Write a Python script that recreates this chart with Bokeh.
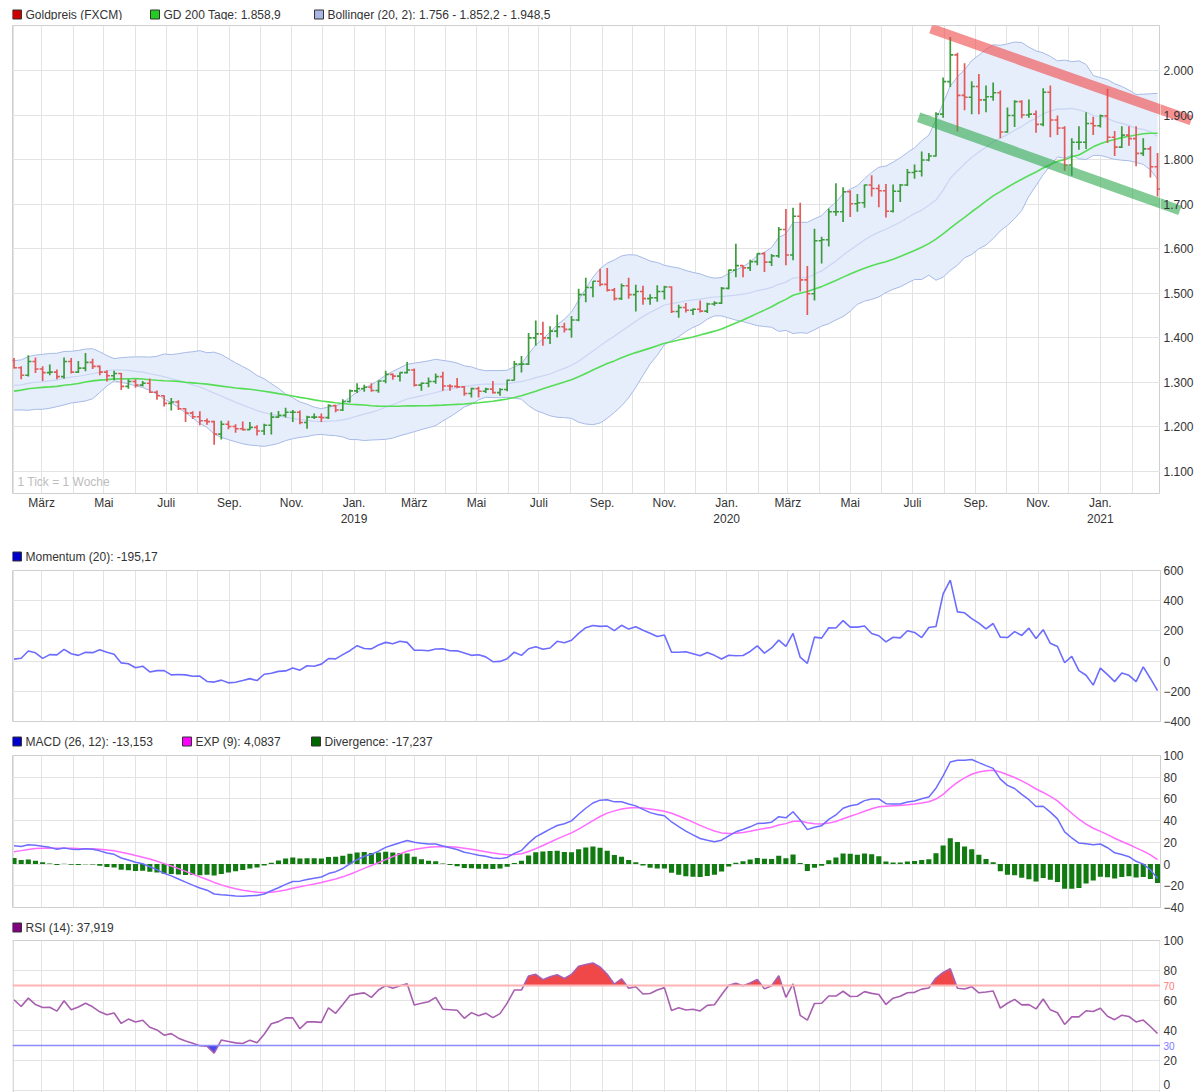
import numpy as np
import pandas as pd
from bokeh.plotting import figure
from bokeh.layouts import column, row
from bokeh.models import (FixedTicker, Label, Range1d, Span)
from bokeh.core.properties import value
from bokeh.embed import file_html
from bokeh.resources import INLINE

FONT = "Liberation Sans"

# ---------------- data ----------------
first_week = "2018-02-02"  # Friday of first weekly bar (1 Tick = 1 Woche)

bar_open = [1349, 1333, 1316, 1347, 1330, 1322, 1323, 1313, 1347, 1323, 1332, 1345, 1336, 1323, 1315, 1320,
            1291, 1302, 1294, 1298, 1278, 1270, 1253, 1256, 1241, 1231, 1223, 1214, 1212, 1184, 1206, 1201,
            1196, 1194, 1199, 1191, 1204, 1222, 1226, 1233, 1233, 1210, 1222, 1222, 1221, 1248, 1238, 1257,
            1281, 1286, 1289, 1282, 1303, 1318, 1314, 1322, 1328, 1294, 1298, 1302, 1313, 1292, 1291, 1290,
            1275, 1286, 1280, 1285, 1277, 1284, 1305, 1341, 1341, 1400, 1409, 1400, 1415, 1425, 1419, 1440,
            1497, 1513, 1527, 1520, 1507, 1488, 1517, 1497, 1504, 1488, 1490, 1504, 1514, 1459, 1468, 1462,
            1464, 1460, 1476, 1478, 1511, 1552, 1562, 1557, 1571, 1589, 1570, 1584, 1643, 1586, 1673, 1530,
            1499, 1618, 1620, 1683, 1683, 1728, 1701, 1703, 1743, 1735, 1730, 1684, 1729, 1743, 1771, 1774,
            1799, 1808, 1902, 1975, 2035, 1944, 1940, 1964, 1934, 1941, 1950, 1862, 1899, 1930, 1900, 1902,
            1879, 1951, 1889, 1871, 1788, 1839, 1839, 1881, 1876, 1898, 1850, 1828, 1855, 1847, 1814, 1824,
            1784]
bar_high = [1355, 1336, 1361, 1356, 1336, 1340, 1329, 1356, 1355, 1348, 1366, 1353, 1338, 1327, 1326, 1321,
            1307, 1307, 1303, 1309, 1282, 1271, 1265, 1260, 1242, 1235, 1235, 1219, 1214, 1214, 1214, 1206,
            1212, 1211, 1204, 1207, 1233, 1236, 1243, 1238, 1237, 1225, 1230, 1230, 1251, 1250, 1262, 1284,
            1298, 1295, 1298, 1304, 1326, 1320, 1323, 1346, 1331, 1300, 1311, 1320, 1324, 1296, 1310, 1292,
            1288, 1290, 1288, 1303, 1287, 1306, 1348, 1359, 1411, 1439, 1436, 1426, 1452, 1434, 1449, 1510,
            1535, 1527, 1555, 1557, 1512, 1522, 1535, 1519, 1517, 1498, 1518, 1517, 1515, 1474, 1478, 1466,
            1484, 1479, 1482, 1514, 1553, 1611, 1563, 1575, 1590, 1592, 1588, 1649, 1689, 1692, 1703, 1561,
            1645, 1627, 1690, 1747, 1738, 1731, 1723, 1744, 1765, 1744, 1745, 1744, 1745, 1779, 1789, 1818,
            1815, 1906, 1984, 2075, 2040, 2016, 1976, 1992, 1966, 1973, 1955, 1917, 1933, 1933, 1935, 1910,
            1960, 1966, 1899, 1875, 1848, 1875, 1906, 1896, 1901, 1959, 1864, 1875, 1875, 1875, 1848, 1830,
            1815]
bar_low = [1331, 1307, 1313, 1321, 1303, 1316, 1307, 1308, 1320, 1321, 1325, 1330, 1316, 1302, 1305, 1283,
           1286, 1288, 1291, 1276, 1261, 1246, 1237, 1238, 1211, 1218, 1204, 1205, 1160, 1172, 1195, 1187,
           1192, 1193, 1181, 1182, 1183, 1220, 1221, 1211, 1206, 1196, 1218, 1211, 1218, 1233, 1236, 1255,
           1276, 1279, 1279, 1277, 1298, 1306, 1302, 1320, 1291, 1281, 1289, 1297, 1281, 1281, 1287, 1270,
           1266, 1266, 1276, 1275, 1270, 1280, 1304, 1322, 1339, 1382, 1382, 1386, 1401, 1412, 1400, 1437,
           1480, 1491, 1516, 1504, 1484, 1485, 1488, 1459, 1474, 1474, 1481, 1486, 1456, 1445, 1457, 1451,
           1457, 1456, 1472, 1476, 1509, 1536, 1536, 1550, 1563, 1548, 1561, 1580, 1563, 1574, 1504, 1451,
           1484, 1567, 1605, 1674, 1660, 1671, 1683, 1692, 1717, 1693, 1670, 1681, 1705, 1741, 1757, 1762,
           1796, 1807, 1894, 1963, 1863, 1911, 1902, 1902, 1906, 1932, 1848, 1860, 1873, 1893, 1894, 1860,
           1875, 1850, 1855, 1775, 1764, 1822, 1824, 1855, 1872, 1837, 1808, 1826, 1831, 1785, 1808, 1760,
           1717]
bar_close = [1333, 1316, 1347, 1330, 1322, 1323, 1313, 1347, 1323, 1332, 1345, 1336, 1323, 1315, 1320, 1291,
             1302, 1294, 1298, 1278, 1270, 1253, 1256, 1241, 1231, 1223, 1214, 1212, 1184, 1206, 1201, 1196,
             1194, 1199, 1191, 1204, 1222, 1226, 1233, 1233, 1210, 1222, 1222, 1221, 1248, 1238, 1257, 1281,
             1286, 1289, 1282, 1303, 1318, 1314, 1322, 1328, 1294, 1298, 1302, 1313, 1292, 1291, 1290, 1275,
             1286, 1280, 1285, 1277, 1284, 1305, 1341, 1341, 1400, 1409, 1400, 1415, 1425, 1419, 1440, 1497,
             1513, 1527, 1520, 1507, 1488, 1517, 1497, 1504, 1488, 1490, 1504, 1514, 1459, 1468, 1462, 1464,
             1460, 1476, 1478, 1511, 1552, 1562, 1557, 1571, 1589, 1570, 1584, 1643, 1586, 1673, 1530, 1499,
             1618, 1620, 1683, 1683, 1728, 1701, 1703, 1743, 1735, 1730, 1684, 1729, 1743, 1771, 1774, 1799,
             1808, 1902, 1975, 2035, 1944, 1940, 1964, 1934, 1941, 1950, 1862, 1899, 1930, 1900, 1902, 1879,
             1951, 1889, 1871, 1788, 1839, 1839, 1881, 1876, 1898, 1850, 1828, 1855, 1847, 1814, 1824, 1784,
             1734]
# weekly closes before the visible window (2017-01-06 .. 2018-01-26), used only for indicator warm-up
closes_before = [1173, 1196, 1210, 1191, 1220, 1234, 1239, 1257, 1226, 1201, 1229, 1244, 1249, 1254, 1285,
                 1284, 1268, 1227, 1228, 1254, 1267, 1280, 1266, 1254, 1256, 1242, 1212, 1228, 1254, 1269,
                 1258, 1289, 1285, 1291, 1325, 1346, 1320, 1297, 1280, 1275, 1304, 1280, 1272, 1269, 1274,
                 1294, 1287, 1280, 1248, 1256, 1275, 1303, 1320, 1338, 1332, 1350]

month_label_dates = ["2018-03-01", "2018-05-01", "2018-07-01", "2018-09-01", "2018-11-01", "2019-01-01",
                     "2019-03-01", "2019-05-01", "2019-07-01", "2019-09-01", "2019-11-01", "2020-01-01",
                     "2020-03-01", "2020-05-01", "2020-07-01", "2020-09-01", "2020-11-01", "2021-01-01"]
month_labels = ["März", "Mai", "Juli", "Sep.", "Nov.", "Jan.\n2019",
                "März", "Mai", "Juli", "Sep.", "Nov.", "Jan.\n2020",
                "März", "Mai", "Juli", "Sep.", "Nov.", "Jan.\n2021"]
month_grid_dates = ["2018-02-01", "2018-04-01", "2018-06-01", "2018-08-01", "2018-10-01", "2018-12-01",
                    "2019-02-01", "2019-04-01", "2019-06-01", "2019-08-01", "2019-10-01", "2019-12-01",
                    "2020-02-01", "2020-04-01", "2020-06-01", "2020-08-01", "2020-10-01", "2020-12-01",
                    "2021-02-01"]

price_ticks = [1100, 1200, 1300, 1400, 1500, 1600, 1700, 1800, 1900, 2000]
price_tick_labels = ["1.100", "1.200", "1.300", "1.400", "1.500", "1.600", "1.700", "1.800", "1.900", "2.000"]
mom_ticks = [-400, -200, 0, 200, 400, 600]
macd_ticks = [-40, -20, 0, 20, 40, 60, 80, 100]
rsi_ticks = [0, 20, 40, 60, 80, 100]
rsi_upper_level = 70
rsi_lower_level = 30

trend_upper_dates = ["2020-07-19", "2021-03-31"]
trend_upper_values = [2094, 1888]
trend_lower_dates = ["2020-07-07", "2021-03-20"]
trend_lower_values = [1895, 1686]

legend_price_colors = ["#cc0000", "#22cc22", "#a9b6e4"]
legend_price_texts = ["Goldpreis (FXCM)", "GD 200 Tage: 1.858,9", "Bollinger (20, 2): 1.756 - 1.852,2 - 1.948,5"]
legend_mom_colors = ["#0000cc"]
legend_mom_texts = ["Momentum (20): -195,17"]
legend_macd_colors = ["#0000cc", "#ff00ff", "#006600"]
legend_macd_texts = ["MACD (26, 12): -13,153", "EXP (9): 4,0837", "Divergence: -17,237"]
legend_rsi_colors = ["#800080"]
legend_rsi_texts = ["RSI (14): 37,919"]

# ---------------- derived ----------------
ORIGIN = pd.Timestamp("2018-03-01")


def dnum(d):
    return float((pd.Timestamp(d) - ORIGIN).days)


dates = pd.date_range(first_week, periods=len(bar_close), freq="7D")
x = np.array([(d - ORIGIN).days for d in dates], dtype=float)

o = np.array(bar_open, float)
h = np.array(bar_high, float)
l = np.array(bar_low, float)
c = np.array(bar_close, float)

allc = pd.Series(closes_before + bar_close, dtype=float)
n0 = len(closes_before)
bb_mid = allc.rolling(20).mean()
bb_sd = allc.rolling(20).std(ddof=0)
bb_up = (bb_mid + 2 * bb_sd).values[n0:]
bb_lo = (bb_mid - 2 * bb_sd).values[n0:]
bb_mid = bb_mid.values[n0:]
gd200 = allc.rolling(40).mean().values[n0:]
mom = (allc - allc.shift(20)).values[n0:]
ema12 = allc.ewm(span=12, adjust=False).mean()
ema26 = allc.ewm(span=26, adjust=False).mean()
macd_s = ema12 - ema26
sig_s = macd_s.ewm(span=9, adjust=False).mean()
macd = macd_s.values[n0:]
sig = sig_s.values[n0:]
div = (macd_s - sig_s).values[n0:]
delta = allc.diff()
gain = delta.clip(lower=0)
loss = -delta.clip(upper=0)
ag = gain.ewm(alpha=1 / 14, adjust=False).mean()
al = loss.ewm(alpha=1 / 14, adjust=False).mean()
rsi = (100 - 100 / (1 + ag / al)).values[n0:]

x_major = [dnum(d) for d in month_label_dates]
x_minor = [dnum(d) for d in month_grid_dates]

FRAME_W = 1148
SIDE_W = 36
LEFT_B = 12
X0, X1 = -28.5, 1095.9
xr = Range1d(X0, X1)
ppd = FRAME_W / (X1 - X0)  # pixels per day

GRID = "#e3e3e3"
OUTLINE = "#cfcfcf"
LBL = "#333333"


def style_axis(ax):
    ax.axis_line_color = None
    ax.major_tick_line_color = None
    ax.minor_tick_line_color = None
    ax.major_tick_out = 0
    ax.major_tick_in = 0
    ax.minor_tick_out = 0
    ax.minor_tick_in = 0
    ax.major_label_text_font = FONT
    ax.major_label_text_font_size = "12px"
    ax.major_label_text_color = LBL


def make_fig(frame_h, yr, ticks, border_top, border_bottom, tick_labels=None, right=SIDE_W):
    p = figure(frame_width=FRAME_W, frame_height=frame_h, x_range=xr, y_range=Range1d(*yr),
               y_axis_location="right", output_backend="svg", toolbar_location=None, title=None,
               min_border_left=LEFT_B, min_border_right=right, min_border_top=border_top,
               min_border_bottom=border_bottom, background_fill_color="white",
               border_fill_color="white", outline_line_color=OUTLINE)
    tk = FixedTicker(ticks=x_major, minor_ticks=x_minor)
    p.xaxis.ticker = tk
    p.xgrid.ticker = tk
    p.xgrid.grid_line_color = GRID
    p.xgrid.minor_grid_line_color = GRID
    p.ygrid.grid_line_color = GRID
    yt = FixedTicker(ticks=ticks, minor_ticks=[])
    p.yaxis.ticker = yt
    p.ygrid.ticker = yt
    if tick_labels is not None:
        p.yaxis.major_label_overrides = dict(zip(ticks, tick_labels))
    style_axis(p.xaxis[0])
    style_axis(p.yaxis[0])
    p.yaxis.major_label_standoff = 3
    return p


def bare_fig(w, h, xrange, yrange, left=0, right=0, top=0, bottom=0):
    f = figure(frame_width=w, frame_height=h, x_range=xrange, y_range=yrange, title=None,
               output_backend="svg", toolbar_location=None, min_border_left=left, min_border_right=right,
               min_border_top=top, min_border_bottom=bottom, outline_line_color=None,
               x_axis_location=None, y_axis_location=None,
               background_fill_color="white", border_fill_color="white")
    f.grid.visible = False
    return f


def legend_strip(height, center, starts, colors, texts):
    """Header strip; x in page pixels (frame spans page x 12..1160)."""
    s = bare_fig(FRAME_W, height, Range1d(LEFT_B, LEFT_B + FRAME_W), Range1d(height, 0),
                 left=LEFT_B, right=SIDE_W)
    sx = [v + 4.5 for v in starts]
    s.rect(x=sx, y=[center] * len(sx), width=9, height=9, fill_color=colors, line_color="#333333",
           line_width=1)
    s.text(x=[v + 13 for v in starts], y=[center] * len(sx), text=texts, text_font=value(FONT),
           text_font_size="12px", text_color=LBL, text_baseline="middle", text_align="left")
    return s


SIDE_XR = (X1, X1 + SIDE_W / ppd)

# ---------------- price panel ----------------
s1 = legend_strip(20, 14, [12, 150, 314], legend_price_colors, legend_price_texts)
P_YR = (1050.7, 2100.9)
P_TOP, P_FRAME, P_BOT = 5, 468, 55
p1 = make_fig(P_FRAME, P_YR, price_ticks, P_TOP, P_BOT, right=0)
p1.yaxis.visible = False
p1.xaxis.major_label_overrides = dict(zip(x_major, month_labels))
p1.xaxis.major_label_standoff = 2

p1.varea(x=x, y1=bb_lo, y2=bb_up, fill_color="#e6edfb", fill_alpha=1)
p1.line(x, bb_up, line_color="#a7bbe6", line_width=1)
p1.line(x, bb_lo, line_color="#a7bbe6", line_width=1)
p1.line(x, bb_mid, line_color="#c9d6f3", line_width=1.2)
p1.line(x, gd200, line_color="#55dd55", line_width=1.6)

up = c >= o
for mask, col in ((up, "#3c9c3c"), (~up, "#e25a5a")):
    xs = x[mask]
    p1.segment(x0=xs, y0=l[mask], x1=xs, y1=h[mask], line_color=col, line_width=1.7)
    p1.segment(x0=xs - 3, y0=o[mask], x1=xs, y1=o[mask], line_color=col, line_width=1.6)
    p1.segment(x0=xs, y0=c[mask], x1=xs + 3, y1=c[mask], line_color=col, line_width=1.6)

tr_up_x = [dnum(d) for d in trend_upper_dates]
tr_lo_x = [dnum(d) for d in trend_lower_dates]
p1.line(tr_up_x, trend_upper_values, line_color="#f04848", line_alpha=0.6, line_width=10)
p1.line(tr_lo_x, trend_lower_values, line_color="#2ea84e", line_alpha=0.6, line_width=10)
p1.add_layout(Label(x=X0, y=P_YR[0], x_offset=5, y_offset=5, text="1 Tick = 1 Woche",
                    text_font=FONT, text_font_size="12px", text_color="#bdbdbd",
                    text_baseline="bottom"))

# price scale at the right, continuing the panel's coordinates (trend lines run on over it)
q1 = bare_fig(SIDE_W, P_FRAME, Range1d(*SIDE_XR), Range1d(*P_YR), top=P_TOP, bottom=P_BOT)
q1.line(tr_up_x, trend_upper_values, line_color="#f04848", line_alpha=0.6, line_width=10)
q1.line(tr_lo_x, trend_lower_values, line_color="#2ea84e", line_alpha=0.6, line_width=10)
q1.text(x=[X1 + 3 / ppd] * len(price_ticks), y=price_ticks, text=price_tick_labels, text_font=value(FONT),
        text_font_size="12px", text_color=LBL, text_baseline="middle", text_align="left")

# ---------------- momentum ----------------
s2 = legend_strip(17, 8, [12], legend_mom_colors, legend_mom_texts)
p2 = make_fig(151, (-400, 600), mom_ticks, 5, 12)
p2.xaxis.visible = False
p2.line(x, mom, line_color="#6c6cff", line_width=1.6)

# ---------------- MACD ----------------
s3 = legend_strip(17, 8, [12, 182, 311], legend_macd_colors, legend_macd_texts)
p3 = make_fig(152, (-40, 100), macd_ticks, 5, 11)
p3.xaxis.visible = False
p3.vbar(x=x, top=div, bottom=0, width=5, fill_color="#117a11", line_color=None)
p3.line(x, sig, line_color="#ff6cff", line_width=1.5)
p3.line(x, macd, line_color="#6c6cff", line_width=1.5)

# ---------------- RSI ----------------
s4 = legend_strip(17, 9, [12], legend_rsi_colors, legend_rsi_texts)
R_PPU = 1.5            # pixels per RSI point
R_PAD_TOP, R_PAD_BOT = 5, 2
R_FRAME = int(100 * R_PPU + R_PAD_TOP + R_PAD_BOT)
R_YR = (0 - R_PAD_BOT / R_PPU, 100 + R_PAD_TOP / R_PPU)
p4 = make_fig(R_FRAME, R_YR, rsi_ticks, 0, 0, right=0)
p4.outline_line_color = None
p4.xaxis.visible = False
p4.yaxis.visible = False


def with_crossings(xs, ys, level):
    px, py = [], []
    for i in range(len(xs)):
        if i > 0:
            y0, y1 = ys[i - 1], ys[i]
            if (y0 - level) * (y1 - level) < 0:
                t = (level - y0) / (y1 - y0)
                px.append(xs[i - 1] + t * (xs[i] - xs[i - 1]))
                py.append(level)
        px.append(xs[i])
        py.append(ys[i])
    return np.array(px), np.array(py)


ux, uy = with_crossings(x, rsi, rsi_upper_level)
p4.varea(x=ux, y1=rsi_upper_level, y2=np.maximum(uy, rsi_upper_level), fill_color="#f04848")
lx, ly = with_crossings(x, rsi, rsi_lower_level)
p4.varea(x=lx, y1=np.minimum(ly, rsi_lower_level), y2=rsi_lower_level, fill_color="#4848f0")
p4.add_layout(Span(location=rsi_upper_level, dimension="width", line_color="#ffb3b3", line_width=2))
p4.add_layout(Span(location=rsi_lower_level, dimension="width", line_color="#8c8cff", line_width=1.5))
p4.line(x, rsi, line_color="#a85fb0", line_width=1.6)
# blank the strip above the 100 line and draw the panel's left/right/top border
p4.quad(left=X0, right=X1, bottom=100 + 0.6 / R_PPU, top=R_YR[1], fill_color="white", line_color=None)
p4.segment(x0=[X0 + 0.5 / ppd, X1 - 0.5 / ppd, X0], y0=[R_YR[0], R_YR[0], 100],
           x1=[X0 + 0.5 / ppd, X1 - 0.5 / ppd, X1], y1=[100, 100, 100],
           line_color=OUTLINE, line_width=1)

q4 = bare_fig(SIDE_W, R_FRAME, Range1d(*SIDE_XR), Range1d(*R_YR))
q4.text(x=[X1 + 3 / ppd] * (len(rsi_ticks) - 1), y=rsi_ticks[1:], text=[str(t) for t in rsi_ticks[1:]],
        text_font=value(FONT), text_font_size="12px", text_color=LBL, text_baseline="middle",
        text_align="left")
# the lowest label sits on the panel's bottom edge; keep it fully inside the page
q4.text(x=[X1 + 3 / ppd], y=[rsi_ticks[0]], y_offset=-2, text=[str(rsi_ticks[0])], text_font=value(FONT),
        text_font_size="12px", text_color=LBL, text_baseline="bottom", text_align="left")
q4.text(x=[X1 + 3 / ppd] * 2, y=[rsi_upper_level, rsi_lower_level],
        text=[str(rsi_upper_level), str(rsi_lower_level)],
        text_font=value(FONT), text_font_size="10px", text_color=["#ff7a7a", "#7a7aff"],
        text_baseline="middle", text_align="left")

layout = column(s1, row(p1, q1, spacing=0), s2, p2, s3, p3, s4, row(p4, q4, spacing=0), spacing=0)
open("out.html", "w").write(file_html(layout, INLINE))
